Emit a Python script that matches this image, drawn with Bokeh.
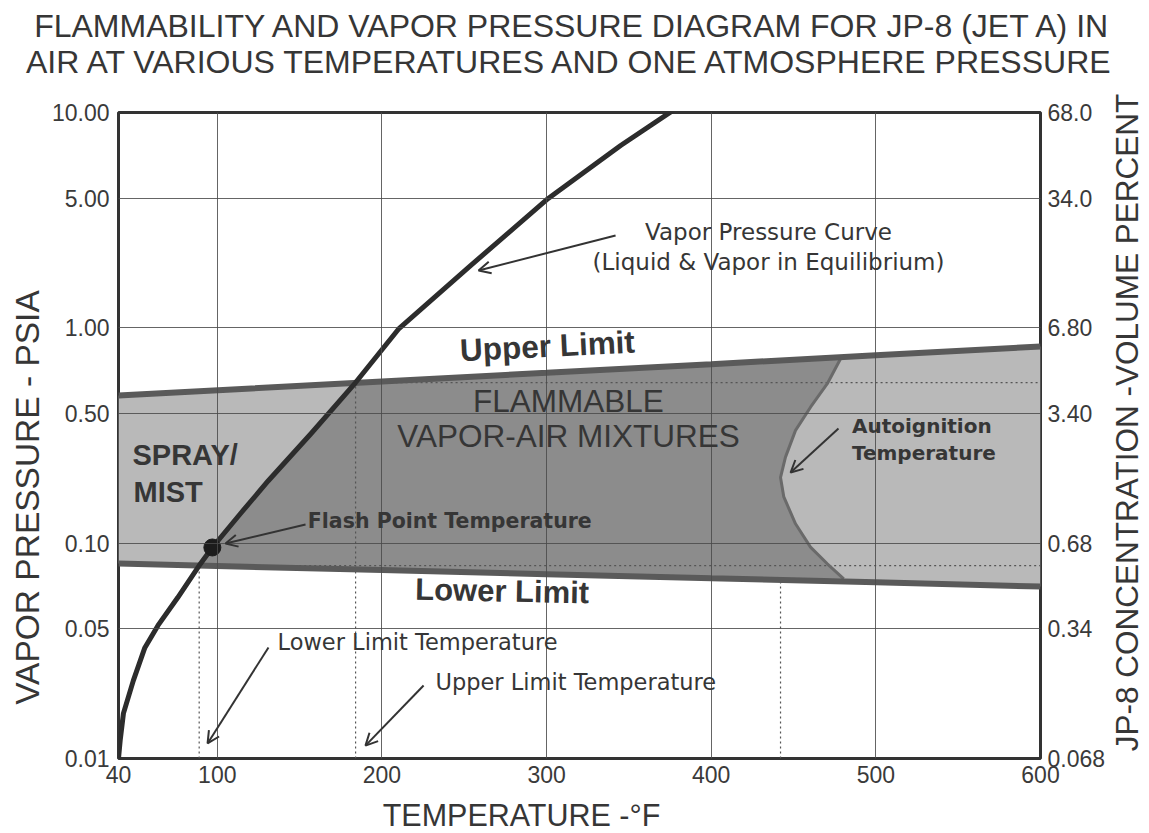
import numpy as np
from bokeh.plotting import figure
from bokeh.models import (Range1d, LogScale, LogAxis, FixedTicker, Label, Arrow, OpenHead)
from bokeh.embed import file_html
from bokeh.resources import INLINE

# ---------------- data ----------------
x_ticks = [40, 100, 200, 300, 400, 500, 600]
y_ticks = [0.01, 0.04, 0.1, 0.4, 1.0, 4.0, 10.0]
y_tick_labels = ["0.01", "0.05", "0.10", "0.50", "1.00", "5.00", "10.00"]
conc_ticks = [0.068, 0.272, 0.68, 2.72, 6.8, 27.2, 68.0]
conc_tick_labels = ["0.068", "0.34", "0.68", "3.40", "6.80", "34.0", "68.0"]

# vapor pressure curve (deg F, psia)
vp_temp = [40, 41, 43, 49, 56, 64, 76, 89, 97, 114, 131, 157, 184, 210, 254, 301, 345, 383]
vp_psia = [0.0100, 0.0121, 0.0162, 0.0230, 0.0327, 0.0415, 0.0559, 0.0787, 0.0955,
           0.137, 0.195, 0.323, 0.557, 0.985, 1.95, 3.99, 7.03, 11.0]

# flammability limits
limit_temp = [40, 200, 300, 400, 500, 600]
upper_limit = [0.485, 0.564, 0.618, 0.678, 0.745, 0.819]
lower_limit = [0.0804, 0.0750, 0.0718, 0.0687, 0.0658, 0.0629]

# autoignition boundary
ait_temp = [479.6, 470.5, 460.3, 451.2, 445.1, 442.1, 444.1, 451.2, 460.3, 470.5, 480.5]
ait_psia = [0.744, 0.550, 0.428, 0.334, 0.251, 0.202, 0.164, 0.123, 0.0958, 0.0802, 0.0683]

flash_temp, flash_psia = 97, 0.0955
llt_temp, llt_psia = 89, 0.0787   # lower limit temperature
ult_temp, ult_psia = 184, 0.557   # upper limit temperature

# ---------------- figure ----------------
W, H = 1147, 831
FRAME_H = 646
p = figure(width=W, height=H, x_range=Range1d(40, 600), y_range=Range1d(0.01, 10),
           y_axis_type="log", output_backend="svg", toolbar_location=None,
           min_border_left=118, min_border_right=W - 1040, min_border_top=112,
           min_border_bottom=H - 758,
           background_fill_color="white", border_fill_color="white")
p.outline_line_color = "#333333"
p.outline_line_width = 3

LIGHT = "#b9b9b9"
DARK = "#8c8c8c"

# band (light) between limits
p.varea(x=limit_temp, y1=lower_limit, y2=upper_limit, fill_color=LIGHT)

# flammable region (dark)
vt = np.array(vp_temp); vpp = np.array(vp_psia)
lt = np.array(limit_temp); ul = np.array(upper_limit); ll = np.array(lower_limit)
m_vp = (vt >= llt_temp) & (vt <= ult_temp)
m_ul = (lt > ult_temp) & (lt < ait_temp[0])
m_ll = (lt > llt_temp) & (lt < ait_temp[-1])
fx = list(vt[m_vp]) + list(lt[m_ul]) + list(ait_temp) + list(lt[m_ll][::-1])
fy = list(vpp[m_vp]) + list(ul[m_ul]) + list(ait_psia) + list(ll[m_ll][::-1])
p.patch(fx, fy, fill_color=DARK, line_color=None)

# dotted guide lines
dot = dict(line_color="#555555", line_width=1.2, line_dash="2 3")
p.line([llt_temp, llt_temp], [0.01, llt_psia], **dot)
p.line([ult_temp, ult_temp], [0.01, ult_psia], **dot)
p.line([min(ait_temp), min(ait_temp)], [0.01, ait_psia[-1]], **dot)
p.line([ult_temp, 600], [ult_psia, ult_psia], **dot)
p.line([llt_temp, 600], [llt_psia, llt_psia], **dot)

# boundary lines
p.line(ait_temp, ait_psia, line_color="#6a6a6a", line_width=3)
p.line(limit_temp, upper_limit, line_color="#5a5a5a", line_width=6)
p.line(limit_temp, lower_limit, line_color="#5a5a5a", line_width=6)
p.line(vp_temp, vp_psia, line_color="#2c2c2c", line_width=5, line_join="round")
p.scatter([flash_temp], [flash_psia], size=17, color="#1c1c1c")

# grids
p.xgrid.ticker = FixedTicker(ticks=x_ticks)
p.ygrid.ticker = FixedTicker(ticks=y_ticks)
for g in (p.xgrid[0], p.ygrid[0]):
    g.grid_line_color = "#4a4a4a"
    g.grid_line_width = 1
    g.grid_line_alpha = 0.85
    g.level = "guide"

# axes
def style_axis(ax, standoff):
    ax.axis_line_color = None
    ax.major_tick_line_color = None
    ax.minor_tick_line_color = None
    ax.major_tick_out = 0
    ax.major_tick_in = 0
    ax.minor_tick_out = 0
    ax.major_label_standoff = standoff
    ax.major_label_text_font = "Liberation Sans"
    ax.major_label_text_font_size = "23px"
    ax.major_label_text_color = "#3a3a3a"

xa = p.below[0]
xa.ticker = FixedTicker(ticks=x_ticks)
style_axis(xa, 7)

ya = p.left[0]
ya.ticker = FixedTicker(ticks=y_ticks)
ya.major_label_overrides = dict(zip(y_ticks, y_tick_labels))
style_axis(ya, 9)

p.extra_y_ranges = {"conc": Range1d(0.068, 68.0)}
p.extra_y_scales = {"conc": LogScale()}
ra = LogAxis(y_range_name="conc", ticker=FixedTicker(ticks=conc_ticks))
ra.major_label_overrides = dict(zip(conc_ticks, conc_tick_labels))
style_axis(ra, 7)
p.add_layout(ra, "right")

TXT = "#363636"
BASE = 0.37        # baseline correction, in em
DEC_PER_PX = 3.0 / FRAME_H

def clabel(text, cx, cy, size, side, angle=0.0):
    # label in canvas pixels, placed in a side panel so it is not clipped to the frame
    p.add_layout(Label(x=cx, y=cy, x_units="canvas", y_units="canvas", text=text,
                       text_font="Liberation Sans", text_font_size=f"{size}px",
                       text_color=TXT, text_align="center", text_baseline="alphabetic",
                       angle=angle), side)

def dlabel(text, x, y, size, align="left", angle=0.0, weight="normal", font="DejaVu Sans"):
    y_adj = y * 10 ** (BASE * size * DEC_PER_PX)
    p.add_layout(Label(x=x, y=y_adj, text=text, text_font=font, text_font_size=f"{size}px",
                       text_font_style=weight, text_color=TXT, text_align=align,
                       text_baseline="alphabetic", angle=angle))

# titles and axis titles (baseline positions corrected by BASE*size)
T = 32.0
clabel("FLAMMABILITY AND VAPOR PRESSURE DIAGRAM FOR JP-8 (JET A) IN", 573, 37 - BASE * T, T, "above")
clabel("AIR AT VARIOUS TEMPERATURES AND ONE ATMOSPHERE PRESSURE", 571, 73 - BASE * T, T, "above")
clabel("TEMPERATURE -°F", 521, 826 - BASE * 30.5, 30.5, "below")
clabel("VAPOR PRESSURE - PSIA", 39 - BASE * 33.5, 497, 33.5, "left", angle=np.pi / 2)
clabel("JP-8 CONCENTRATION -VOLUME PERCENT", 1138 - BASE * 31.5, 422, 31.5, "right", angle=np.pi / 2)

# in-plot annotations
dlabel("Vapor Pressure Curve", 434.8, 2.544, 23, align="center")
dlabel("(Liquid & Vapor in Equilibrium)", 434.8, 1.846, 23, align="center")
dlabel("Upper Limit", 300.5, 0.728, 31.5, align="center", angle=0.05, weight="bold", font="Liberation Sans")
dlabel("FLAMMABLE", 313.3, 0.4045, 31.5, align="center", font="Liberation Sans")
dlabel("VAPOR-AIR MIXTURES", 313.3, 0.278, 31.5, align="center", font="Liberation Sans")
dlabel("SPRAY/", 48.5, 0.2295, 29, weight="bold", font="Liberation Sans")
dlabel("MIST", 49.1, 0.1545, 29, weight="bold", font="Liberation Sans")
dlabel("Flash Point Temperature", 155.0, 0.117, 20.5, weight="bold")
dlabel("Lower Limit", 273.0, 0.053, 31, align="center", angle=-0.02, weight="bold", font="Liberation Sans")
dlabel("Lower Limit Temperature", 136.6, 0.03173, 22.5)
dlabel("Upper Limit Temperature", 232.5, 0.0207, 22.5)
dlabel("Autoignition", 485.5, 0.323, 20, weight="bold")
dlabel("Temperature", 485.5, 0.242, 20, weight="bold")

# arrows
def arrow(x0, y0, x1, y1):
    p.add_layout(Arrow(end=OpenHead(size=12, line_width=2, line_color="#333333"),
                       x_start=x0, y_start=y0, x_end=x1, y_end=y1,
                       line_width=2, line_color="#333333"))

arrow(341.9, 2.684, 258.7, 1.846)
arrow(153.6, 0.122, 105.0, 0.0996)
arrow(131.1, 0.0328, 94.1, 0.01175)
arrow(225.3, 0.02183, 190.0, 0.01148)
arrow(477.3, 0.3408, 448.2, 0.2128)

open("out.html", "w").write(file_html(p, INLINE))
